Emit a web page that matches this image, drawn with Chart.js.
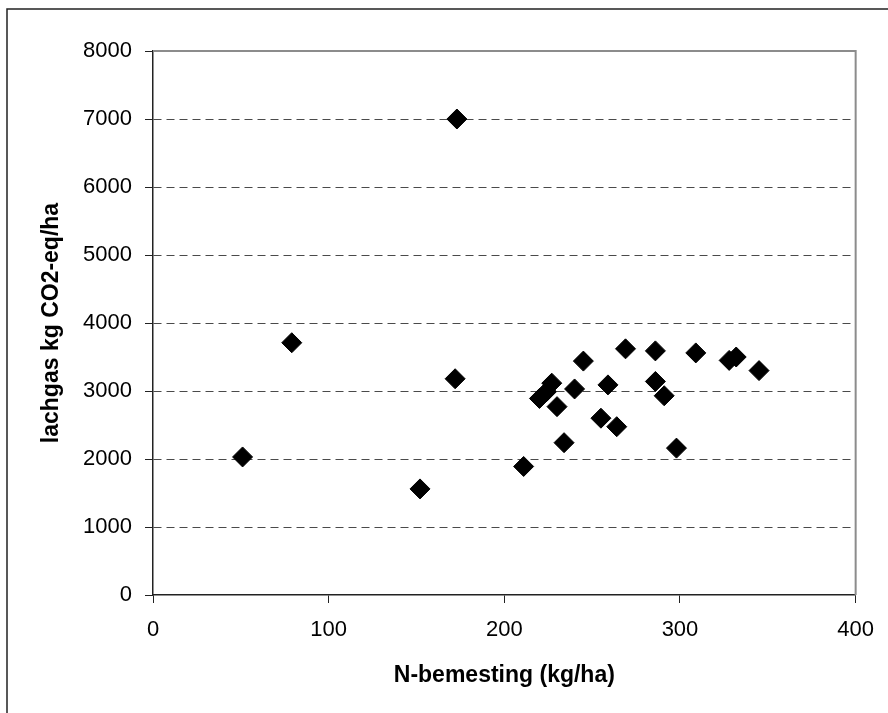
<!DOCTYPE html>
<html>
<head>
<meta charset="utf-8">
<script src="https://cdn.jsdelivr.net/npm/chart.js@4"></script>
<style>
    html, body { margin: 0; padding: 0; background: #fff; }
    #wrap { width: 888px; height: 713px; }
</style>
</head>
<body>
<div id="wrap"><canvas id="scatterChart" width="888" height="713"></canvas></div>
<script>
// N-bemesting (kg/ha) per bedrijf
const nBemesting = [51, 79, 152, 172, 173, 211, 220, 224, 227, 230, 234, 240, 245, 255, 259, 264, 269, 286, 286, 291, 298, 309, 328, 332, 345];
// lachgas emissie (kg CO2-eq/ha)
const lachgas = [2030, 3710, 1560, 3180, 7000, 1890, 2890, 2990, 3115, 2770, 2240, 3030, 3440, 2600, 3090, 2475, 3620, 3590, 3140, 2930, 2160, 3560, 3450, 3500, 3300];

const xTicks = [0, 100, 200, 300, 400];
const yTicks = [0, 1000, 2000, 3000, 4000, 5000, 6000, 7000, 8000];

const points = nBemesting.map((x, i) => ({ x: x, y: lachgas[i] }));

// Frame + plot area border (top/right)
const framePlugin = {
    id: 'frame',
    beforeDraw(chart) {
        const ctx = chart.ctx;
        ctx.save();
        ctx.fillStyle = '#fff';
        ctx.fillRect(0, 0, chart.width, chart.height);
        ctx.strokeStyle = '#222';
        ctx.lineWidth = 1.5;
        ctx.beginPath();
        ctx.moveTo(7, chart.height);
        ctx.lineTo(7, 9);
        ctx.lineTo(chart.width, 9);
        ctx.stroke();
        ctx.restore();
    },
    beforeDatasetsDraw(chart) {
        const { ctx, chartArea } = chart;
        ctx.save();
        ctx.strokeStyle = '#8c8c8c';
        ctx.lineWidth = 2;
        ctx.beginPath();
        ctx.moveTo(chartArea.left, chartArea.top);
        ctx.lineTo(chartArea.right, chartArea.top);
        ctx.lineTo(chartArea.right, chartArea.bottom);
        ctx.stroke();
        ctx.restore();
    }
};

const tickFont = { family: 'Liberation Sans, Arial, sans-serif', size: 22 };
const titleFont = { family: 'Liberation Sans, Arial, sans-serif', size: 23, weight: 'bold', lineHeight: 1.2 };

new Chart(document.getElementById('scatterChart').getContext('2d'), {
    type: 'scatter',
    data: {
        datasets: [{
            label: 'lachgas',
            data: points,
            pointStyle: 'rectRot',
            pointRadius: 10,
            pointHoverRadius: 10,
            backgroundColor: '#000',
            borderColor: '#000',
            borderWidth: 1
        }]
    },
    options: {
        responsive: false,
        animation: false,
        layout: { padding: { top: 51, right: 31, left: 0, bottom: 0 } },
        plugins: {
            legend: { display: false },
            tooltip: { enabled: false }
        },
        scales: {
            x: {
                type: 'linear',
                min: 0,
                max: 400,
                afterBuildTicks: (scale) => { scale.ticks = xTicks.map(v => ({ value: v })); },
                afterFit: (scale) => { scale.height = 118; },
                border: { display: true, color: '#222', width: 1.5 },
                grid: { drawOnChartArea: false, drawTicks: true, tickLength: 8, tickColor: '#222', tickWidth: 1 },
                ticks: {
                    color: '#000',
                    padding: 14,
                    maxRotation: 0,
                    font: tickFont,
                    callback: (v) => String(v)
                },
                title: {
                    display: true,
                    text: 'N-bemesting (kg/ha)',
                    color: '#000',
                    padding: { top: 0, bottom: 24 },
                    font: titleFont
                }
            },
            y: {
                type: 'linear',
                min: 0,
                max: 8000,
                afterBuildTicks: (scale) => { scale.ticks = yTicks.map(v => ({ value: v })); },
                afterFit: (scale) => { scale.width = 153; },
                // in v4 border.dash sets the dash of the grid lines
                border: { display: true, color: '#222', width: 1.5, dash: [8, 5] },
                grid: {
                    drawTicks: true,
                    tickLength: 8,
                    tickColor: '#222',
                    tickWidth: 1,
                    tickBorderDash: [],
                    color: (c) => (c.tick && (c.tick.value === 0 || c.tick.value === 8000)) ? 'rgba(0,0,0,0)' : '#4a4a4a',
                    lineWidth: 1
                },
                ticks: {
                    color: '#000',
                    padding: 13,
                    font: tickFont,
                    callback: (v) => String(v)
                },
                title: {
                    display: true,
                    text: 'lachgas kg CO2-eq/ha',
                    color: '#000',
                    padding: { top: 38, bottom: 0 },
                    font: titleFont
                }
            }
        }
    },
    plugins: [framePlugin]
});
</script>
</body>
</html>
